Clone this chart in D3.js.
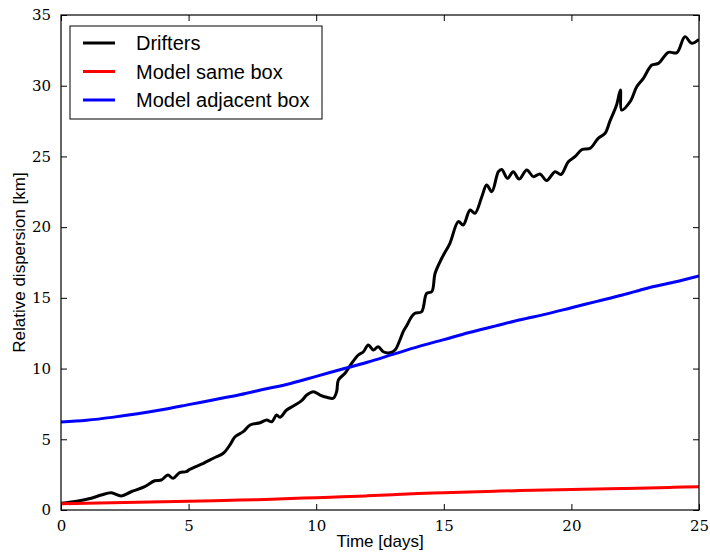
<!DOCTYPE html>
<html>
<head>
<meta charset="utf-8">
<script src="https://cdn.jsdelivr.net/npm/d3@7"></script>
<style>
  body { margin: 0; background: #fff; }
  .tick text { font-family: "DejaVu Serif", "Liberation Serif", serif; }
</style>
</head>
<body>
<div id="d3-container"></div>
<script>
// Drifters: [time (days), dispersion (km)]
const driftersT = [0, 0.67, 1.19, 1.58, 1.97, 2.36, 2.75, 3.28, 3.67, 3.93, 4.19, 4.39, 4.65, 4.91, 5.05, 5.58, 5.97, 6.36, 6.62, 6.82, 7.14, 7.41, 7.8, 8.06, 8.26, 8.45, 8.58, 8.84, 9.17, 9.43, 9.63, 9.89, 10.15, 10.41, 10.67, 10.8, 10.87, 11.13, 11.39, 11.65, 11.85, 12.04, 12.24, 12.43, 12.63, 12.89, 13.09, 13.28, 13.41, 13.55, 13.74, 13.87, 14.13, 14.33, 14.53, 14.66, 14.92, 15.24, 15.57, 15.76, 16.03, 16.22, 16.49, 16.68, 16.88, 17.14, 17.27, 17.5, 17.72, 17.95, 18.25, 18.51, 18.77, 19.03, 19.36, 19.59, 19.88, 20.14, 20.42, 20.73, 21.05, 21.32, 21.51, 21.77, 21.92, 21.97, 22.3, 22.56, 22.82, 23.15, 23.41, 23.8, 24.13, 24.45, 24.71, 25];
const driftersD = [0.47, 0.64, 0.83, 1.06, 1.22, 0.99, 1.29, 1.65, 2.07, 2.12, 2.47, 2.24, 2.64, 2.71, 2.88, 3.3, 3.66, 4.01, 4.6, 5.18, 5.54, 6.01, 6.17, 6.36, 6.24, 6.72, 6.55, 7.07, 7.42, 7.73, 8.13, 8.36, 8.13, 7.97, 7.9, 8.36, 9.19, 9.67, 10.37, 10.96, 11.19, 11.67, 11.31, 11.55, 11.19, 11.12, 11.31, 12.02, 12.61, 13.05, 13.67, 13.91, 14.02, 15.32, 15.44, 16.74, 17.8, 18.86, 20.39, 20.15, 21.21, 20.98, 22.15, 22.98, 22.51, 23.92, 24.07, 23.45, 23.92, 23.4, 24.04, 23.57, 23.76, 23.3, 23.92, 23.72, 24.63, 24.98, 25.49, 25.57, 26.28, 26.64, 27.5, 28.64, 29.7, 28.28, 28.87, 29.93, 30.52, 31.46, 31.58, 32.36, 32.33, 33.47, 33.0, 33.28];

// Models sampled once per day
const modelT = d3.range(0, 26);
const sameBox = [0.45, 0.48, 0.52, 0.55, 0.58, 0.61, 0.65, 0.7, 0.75, 0.81, 0.87, 0.93, 1.0, 1.08, 1.16, 1.22, 1.28, 1.33, 1.37, 1.41, 1.45, 1.49, 1.52, 1.56, 1.6, 1.65];
const adjacentBox = [6.22, 6.35, 6.55, 6.8, 7.1, 7.45, 7.8, 8.15, 8.55, 8.95, 9.45, 9.95, 10.45, 11.0, 11.55, 12.05, 12.55, 13.0, 13.45, 13.85, 14.3, 14.75, 15.2, 15.7, 16.1, 16.55];

const xTicks = [0, 5, 10, 15, 20, 25];
const yTicks = [0, 5, 10, 15, 20, 25, 30, 35];
const seriesNames = ["Drifters", "Model same box", "Model adjacent box"];
const seriesColors = ["#000000", "#ff0000", "#0000ff"];

const width = 710, height = 555;
const margin = {top: 15, right: 11, bottom: 45, left: 61};

const svg = d3.select("#d3-container")
    .append("svg")
    .attr("width", width)
    .attr("height", height);

const x = d3.scaleLinear().domain([0, 25]).range([margin.left, width - margin.right]);
const y = d3.scaleLinear().domain([0, 35]).range([height - margin.bottom, margin.top]);

const series = [
    driftersT.map((t, i) => [t, driftersD[i]]),
    modelT.map((t, i) => [t, sameBox[i]]),
    modelT.map((t, i) => [t, adjacentBox[i]])
];

const line = d3.line()
    .x(d => x(d[0]))
    .y(d => y(d[1]))
    .curve(d3.curveCatmullRom.alpha(0.5));

svg.append("defs").append("clipPath").attr("id", "clip")
    .append("rect")
    .attr("x", margin.left).attr("y", margin.top)
    .attr("width", width - margin.left - margin.right)
    .attr("height", height - margin.top - margin.bottom);

svg.append("g")
    .attr("clip-path", "url(#clip)")
    .selectAll("path")
    .data(series)
    .join("path")
    .attr("fill", "none")
    .attr("stroke", (d, i) => seriesColors[i])
    .attr("stroke-width", 3)
    .attr("stroke-linejoin", "round")
    .attr("d", line);

// axes, ticks pointing inward on all four sides
function styleAxis(g) {
    g.select(".domain").remove();
    g.selectAll(".tick line").attr("stroke", "#000").attr("stroke-width", 1);
}

svg.append("g")
    .attr("transform", `translate(0,${height - margin.bottom})`)
    .call(d3.axisBottom(x).tickValues(xTicks).tickSize(-6).tickPadding(10).tickFormat(d3.format("d")))
    .attr("font-size", 15)
    .call(styleAxis);

svg.append("g")
    .attr("transform", `translate(0,${margin.top})`)
    .call(d3.axisTop(x).tickValues(xTicks).tickSize(-6).tickFormat(""))
    .call(styleAxis);

svg.append("g")
    .attr("transform", `translate(${margin.left},0)`)
    .call(d3.axisLeft(y).tickValues(yTicks).tickSize(-6).tickPadding(10).tickFormat(d3.format("d")))
    .attr("font-size", 15)
    .call(styleAxis);

svg.append("g")
    .attr("transform", `translate(${width - margin.right},0)`)
    .call(d3.axisRight(y).tickValues(yTicks).tickSize(-6).tickFormat(""))
    .call(styleAxis);

svg.selectAll(".tick text").attr("fill", "#000");

svg.append("rect")
    .attr("x", margin.left).attr("y", margin.top)
    .attr("width", width - margin.left - margin.right)
    .attr("height", height - margin.top - margin.bottom)
    .attr("fill", "none")
    .attr("stroke", "#000")
    .attr("stroke-width", 1.2);

svg.append("text")
    .attr("x", (margin.left + width - margin.right) / 2)
    .attr("y", 547)
    .attr("text-anchor", "middle")
    .attr("font-family", "Liberation Sans, Arial, sans-serif")
    .attr("font-size", 17)
    .text("Time [days]");

svg.append("text")
    .attr("transform", `translate(25,${(margin.top + height - margin.bottom) / 2}) rotate(-90)`)
    .attr("text-anchor", "middle")
    .attr("font-family", "Liberation Sans, Arial, sans-serif")
    .attr("font-size", 17)
    .text("Relative dispersion [km]");

// legend
const legend = svg.append("g");
legend.append("rect")
    .attr("x", 70).attr("y", 26)
    .attr("width", 252).attr("height", 93)
    .attr("fill", "#fff")
    .attr("stroke", "#000")
    .attr("stroke-width", 1);

const items = legend.selectAll("g.item")
    .data(seriesNames)
    .join("g")
    .attr("class", "item")
    .attr("transform", (d, i) => `translate(0,${43 + i * 28.5})`);

items.append("line")
    .attr("x1", 83).attr("x2", 115)
    .attr("stroke", (d, i) => seriesColors[i])
    .attr("stroke-width", 3);

items.append("text")
    .attr("x", 136)
    .attr("dy", "0.36em")
    .attr("font-family", "Liberation Sans, Arial, sans-serif")
    .attr("font-size", 20)
    .text(d => d);
</script>
</body>
</html>
